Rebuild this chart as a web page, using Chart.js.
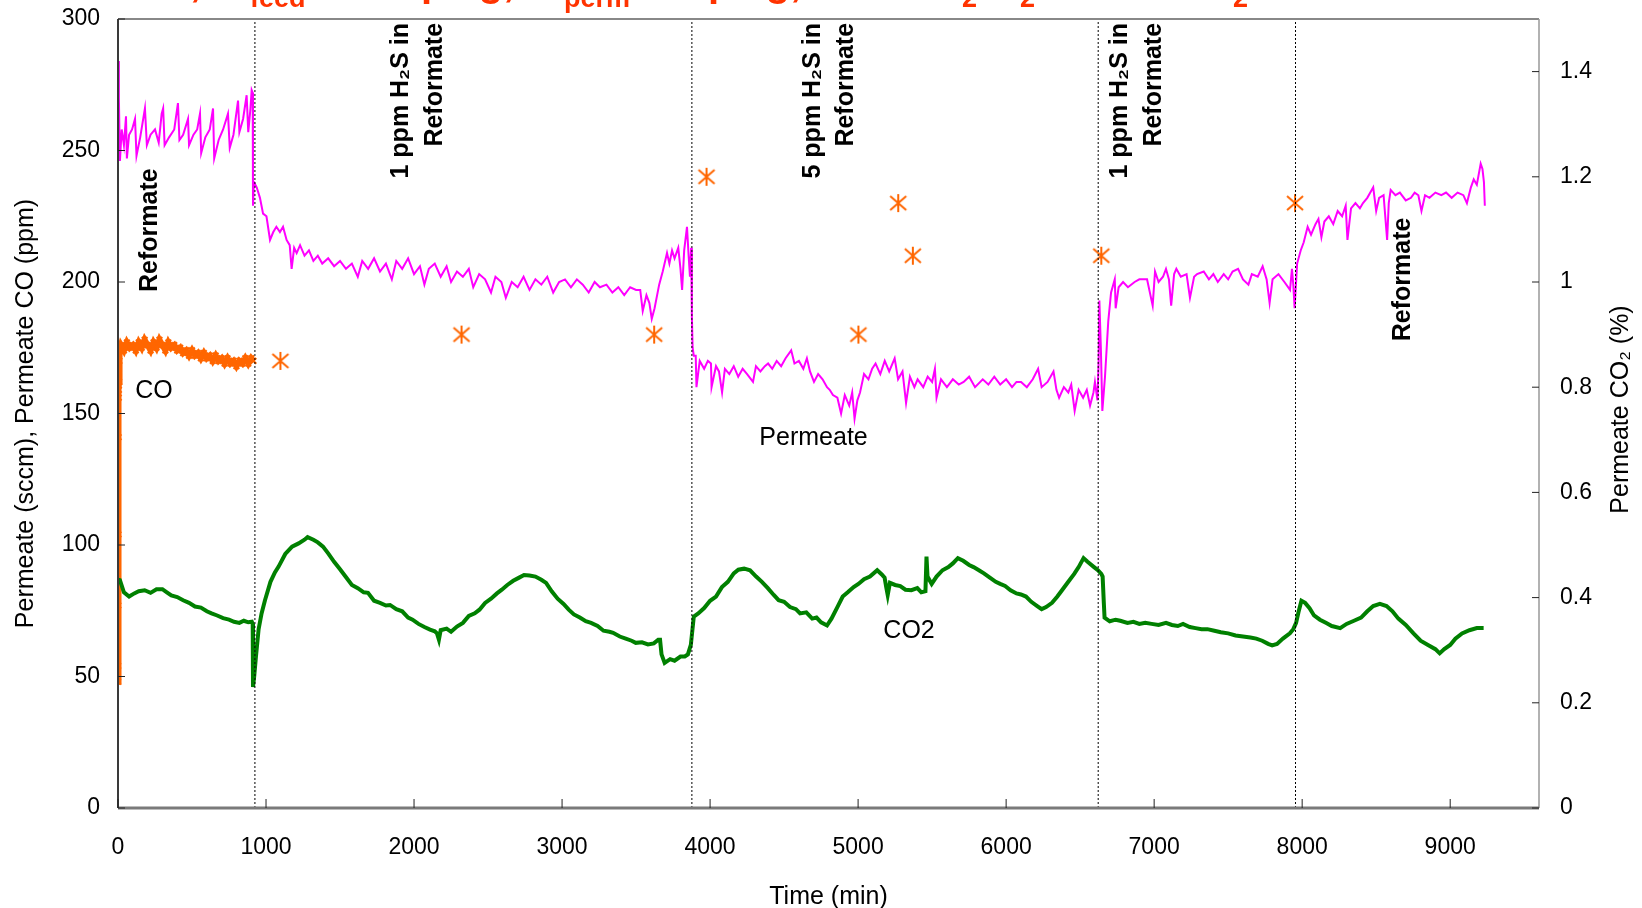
<!DOCTYPE html>
<html>
<head>
<meta charset="utf-8">
<script src="https://cdn.jsdelivr.net/npm/chart.js@4.4.1/dist/chart.umd.min.js"></script>
<style>
  html, body { margin: 0; padding: 0; background: #fff; }
  #wrap { width: 1642px; height: 908px; }
</style>
</head>
<body>
<div id="wrap"><canvas id="chart" width="1642" height="908"></canvas></div>
<script>
// Permeate flow (sccm), left axis
const permTime = [0, 6, 13, 25, 40, 54, 60, 75, 95, 115, 125, 150, 182, 195, 220, 250, 275, 295, 305, 315, 345, 380, 405, 415, 440, 473, 480, 510, 535, 554, 562, 590, 620, 642, 650, 680, 710, 743, 755, 780, 811, 820, 845, 869, 880, 895, 903, 910, 912, 918,
  937, 959, 980, 1003, 1027, 1049, 1070, 1094, 1115, 1139, 1160, 1173, 1190, 1207, 1230, 1260, 1290, 1320, 1350, 1380, 1420, 1460, 1500, 1540, 1580, 1620, 1650, 1690, 1730, 1770, 1810, 1850, 1880, 1920, 1960, 2000, 2040, 2070, 2100, 2140, 2180, 2220, 2250, 2290, 2330, 2370, 2400, 2440, 2480, 2520, 2550, 2590, 2620, 2660, 2700, 2740, 2780, 2820, 2860, 2900, 2940, 2980, 3020, 3060, 3100, 3140, 3180, 3220, 3256, 3300, 3340, 3380, 3420, 3460, 3500, 3528, 3545, 3570, 3590, 3606, 3625, 3656, 3680, 3709, 3725, 3743, 3760, 3785, 3800, 3811, 3825, 3844, 3855, 3864, 3872, 3877, 3882,
  3890, 3903, 3908, 3930, 3960, 3985, 4006, 4010, 4040, 4060, 4081, 4100, 4130, 4160, 4190, 4220, 4250, 4290, 4310, 4340, 4370, 4392, 4420, 4450, 4480, 4510, 4548, 4570, 4600, 4630, 4654, 4675, 4702, 4730, 4760, 4790, 4808, 4830, 4860, 4885, 4910, 4940, 4960, 4976, 4995, 5013, 5040, 5070, 5095, 5118, 5150, 5180, 5210, 5247, 5270, 5300, 5324, 5350, 5380, 5402, 5440, 5470, 5500, 5519, 5530, 5560, 5600, 5640, 5680, 5713, 5750, 5790, 5842, 5880, 5920, 5960, 6000, 6040, 6070, 6101, 6140, 6180, 6216, 6240, 6280, 6320, 6340, 6358, 6390, 6420, 6440, 6463, 6490, 6520, 6545, 6567, 6590, 6600, 6617,
  6625, 6630, 6640, 6650, 6668, 6690, 6709, 6734, 6740, 6760, 6790, 6823, 6868, 6900, 6952, 6990, 7006, 7030, 7060, 7080, 7100, 7115, 7135, 7150, 7180, 7219, 7242, 7270, 7290, 7335, 7370, 7400, 7430, 7470, 7500, 7530, 7567, 7600, 7637, 7660, 7700, 7733, 7760, 7780, 7800, 7840, 7880, 7918, 7931, 7940, 7949, 7966,
  7990, 8010, 8037, 8060, 8090, 8110, 8130, 8150, 8180, 8210, 8240, 8270, 8294, 8306, 8330, 8360, 8390, 8411, 8440, 8480, 8500, 8520, 8550, 8574, 8585, 8598, 8630, 8660, 8700, 8735, 8760, 8785, 8806, 8830, 8860, 8900, 8940, 8972, 9010, 9050, 9089, 9113, 9140, 9159, 9180, 9206, 9218, 9228, 9234];
const permValue = [284, 270, 246, 258, 252, 263, 247, 256, 258, 262, 248, 255, 266, 252, 256, 258, 253, 264, 266, 252, 255, 258, 268, 254, 256, 262, 252, 256, 258, 264, 249, 255, 258, 266, 247, 254, 258, 264, 251, 256, 269, 257, 262, 271, 257, 266, 273, 272, 229, 238,
  236, 232, 226, 225, 216, 219, 221, 219, 221, 216, 214, 205, 213, 211, 214, 210, 212, 208, 210, 207, 209, 206, 208, 205, 207, 202, 208, 205, 209, 204, 207, 201, 208, 205, 209, 203, 206, 199, 205, 207, 202, 206, 200, 204, 202, 205, 198, 203, 201, 196, 202, 200, 194, 200, 198, 202, 197, 201, 199, 202, 196, 200, 201, 198, 201, 199, 196, 200, 198, 199, 196, 198, 195, 198, 197, 197, 189, 195, 192, 186, 190, 199, 204, 211, 207, 212, 209, 213, 205, 197, 212, 221, 210, 202, 213, 187, 175,
  172, 172, 160, 170, 167, 170, 169, 160, 168, 166, 158, 167, 165, 168, 164, 167, 165, 162, 168, 166, 168, 169, 167, 170, 168, 171, 174, 169, 170, 167, 171, 166, 162, 165, 163, 160, 159, 157, 156, 150, 157, 153, 158, 148, 155, 158, 165, 163, 167, 169, 165, 170, 166, 171, 163, 166, 154, 164, 160, 163, 160, 164, 162, 167, 156, 163, 160, 163, 161, 162, 164, 160, 163, 161, 164, 161, 163, 160, 162, 162, 160, 163, 167, 160, 162, 166, 159, 156, 160, 158, 161, 151, 159, 156, 159, 153, 158, 162, 155,
  170, 193, 175, 151, 164, 185, 196, 201, 190, 198, 200, 198, 200, 201, 201, 191, 204, 200, 202, 205, 201, 191, 203, 205, 202, 203, 194, 202, 203, 204, 201, 203, 200, 203, 201, 204, 205, 201, 199, 203, 202, 206, 201, 192, 201, 203, 200, 197, 205, 199, 190, 207,
  212, 215, 221, 218, 222, 224, 217, 223, 225, 222, 227, 225, 229, 216, 228, 230, 228, 230, 232, 236, 227, 232, 233, 216, 230, 235, 233, 234, 231, 232, 234, 233, 227, 233, 232, 234, 233, 234, 232, 234, 233, 230, 236, 239, 237, 245, 243, 238, 229];

// Permeate CO (ppm), left axis
const coTime = [0, 1, 2, 3, 4, 5, 6, 7, 9, 12, 20, 40, 60, 80, 100, 120, 140, 160, 180, 200, 220, 240, 260, 280, 300, 320, 340, 360, 380, 400, 420, 440, 460, 480, 500, 520, 540, 560, 580, 600, 620, 640, 660, 680, 700, 720, 740, 760, 780, 800, 820, 840, 860, 880, 900, 915];
const coValue = [48, 54, 77, 104, 141, 156, 159, 162, 170, 174, 176, 174, 177, 175, 176, 174, 177, 175, 178, 176, 174, 177, 175, 178, 176, 174, 177, 175, 176, 174, 175, 173, 174, 172, 174, 172, 173, 171, 173, 171, 172, 170, 172, 170, 171, 169, 171, 169, 170, 168, 170, 169, 171, 169, 171, 170];

// Spot CO readings (asterisks)
const spotTime = [1097, 2321, 3622, 3976, 5002, 5271, 5370, 6643, 7952];
const spotValue = [170, 180, 180, 240, 180, 230, 210, 210, 230];

// Permeate CO2 (%), right axis
const co2Time = [0, 13, 40, 75, 110, 140, 180, 220, 260, 300, 330, 360, 400, 440, 480, 520, 560, 600, 632, 670, 710, 750, 784, 820, 850, 880, 904, 910, 912, 920, 932, 950, 970, 993, 1030, 1060, 1085, 1130, 1176, 1220, 1260, 1281, 1320, 1350, 1385, 1420, 1460, 1500, 1537, 1580, 1620, 1660, 1689, 1730, 1770, 1810, 1838, 1880, 1920, 1960, 1990, 2030, 2070, 2108, 2140, 2155, 2168, 2180, 2220, 2250, 2290, 2330, 2370, 2410, 2442, 2480, 2520, 2560, 2593, 2630, 2670, 2710, 2743, 2780, 2820, 2860, 2892, 2930, 2970, 3010, 3045, 3080, 3120, 3160, 3196, 3240, 3280, 3320, 3345, 3390, 3430, 3470, 3498, 3540, 3580, 3620, 3650, 3662, 3672, 3693, 3730, 3760, 3800, 3829, 3850, 3870,
  3890, 3920, 3960, 4000, 4040, 4080, 4120, 4160, 4191, 4230, 4270, 4311, 4350, 4390, 4430, 4463, 4500, 4540, 4580, 4608, 4650, 4690, 4719, 4750, 4790, 4820, 4860, 4896, 4930, 4970, 5002, 5040, 5080, 5129, 5160, 5179, 5190, 5200, 5215, 5250, 5285, 5320, 5360, 5400, 5427, 5455, 5462, 5469, 5497, 5530, 5570, 5610, 5640, 5674, 5710, 5750, 5780, 5816, 5850, 5890, 5930, 5960, 5993, 6030, 6070, 6100, 6134, 6170, 6210, 6240, 6270, 6310, 6346, 6380, 6420, 6460, 6490, 6523, 6550, 6594, 6620, 6643, 6652, 6660,
  6665, 6700, 6740, 6771, 6820, 6860, 6900, 6940, 6983, 7030, 7080, 7120, 7160, 7195, 7240, 7280, 7320, 7360, 7407, 7450, 7500, 7550, 7600, 7650, 7690, 7730, 7770, 7797, 7830, 7870, 7917, 7940, 7959, 7975, 7995, 8020, 8050, 8080, 8120, 8160, 8200, 8257, 8300, 8350, 8398, 8440, 8480, 8525, 8570, 8610, 8650, 8700, 8752, 8800, 8850, 8900, 8929, 8960, 9000, 9035, 9080, 9130, 9180, 9226];
const co2Value = [0.434, 0.433, 0.41, 0.402, 0.408, 0.412, 0.414, 0.409, 0.416, 0.416, 0.41, 0.404, 0.401, 0.395, 0.39, 0.383, 0.381, 0.374, 0.37, 0.366, 0.361, 0.358, 0.354, 0.352, 0.356, 0.353, 0.354, 0.35, 0.23, 0.25, 0.288, 0.34, 0.37, 0.395, 0.43, 0.448, 0.459, 0.483, 0.497, 0.503, 0.51, 0.515, 0.51, 0.505, 0.497, 0.484, 0.468, 0.454, 0.44, 0.424, 0.418, 0.41, 0.409, 0.394, 0.39, 0.385, 0.386, 0.378, 0.374, 0.362, 0.358, 0.35, 0.344, 0.339, 0.336, 0.332, 0.32, 0.338, 0.341, 0.335, 0.345, 0.352, 0.365, 0.37, 0.377, 0.39, 0.398, 0.408, 0.415, 0.424, 0.432, 0.438, 0.443, 0.442, 0.44, 0.434, 0.428, 0.412, 0.398, 0.388, 0.377, 0.368, 0.362, 0.355, 0.352, 0.346, 0.337, 0.335, 0.333, 0.326, 0.322, 0.318, 0.314, 0.315, 0.311, 0.313, 0.32, 0.32, 0.292, 0.276, 0.283, 0.28, 0.288, 0.288, 0.292, 0.31,
  0.364, 0.37, 0.38, 0.394, 0.402, 0.42, 0.43, 0.446, 0.453, 0.455, 0.452, 0.44, 0.43, 0.418, 0.405, 0.395, 0.392, 0.382, 0.378, 0.37, 0.372, 0.36, 0.362, 0.353, 0.347, 0.36, 0.382, 0.402, 0.41, 0.42, 0.426, 0.435, 0.44, 0.452, 0.444, 0.438, 0.42, 0.405, 0.428, 0.424, 0.422, 0.415, 0.414, 0.418, 0.41, 0.412, 0.478, 0.44, 0.426, 0.44, 0.452, 0.458, 0.465, 0.475, 0.47, 0.462, 0.458, 0.452, 0.446, 0.438, 0.43, 0.426, 0.422, 0.414, 0.408, 0.406, 0.402, 0.392, 0.384, 0.378, 0.382, 0.39, 0.402, 0.415, 0.43, 0.445, 0.458, 0.475, 0.468, 0.458, 0.452, 0.445, 0.44, 0.39,
  0.362, 0.355, 0.358, 0.356, 0.352, 0.354, 0.35, 0.352, 0.35, 0.348, 0.352, 0.348, 0.346, 0.35, 0.344, 0.342, 0.34, 0.34, 0.337, 0.334, 0.332, 0.328, 0.326, 0.324, 0.322, 0.318, 0.312, 0.309, 0.312, 0.322, 0.332, 0.34, 0.352, 0.372, 0.394, 0.39, 0.38, 0.366, 0.358, 0.352, 0.346, 0.342, 0.35, 0.356, 0.362, 0.374, 0.384, 0.388, 0.384, 0.374, 0.36, 0.348, 0.332, 0.318, 0.31, 0.302, 0.294, 0.302, 0.31, 0.322, 0.332, 0.338, 0.342, 0.342];

// Feed changes (min)
const phaseBreaks = [925, 3877, 6622, 7955];

const xTicks = [0, 1000, 2000, 3000, 4000, 5000, 6000, 7000, 8000, 9000];
const yTicks = [0, 50, 100, 150, 200, 250, 300];
const y2Ticks = [0, 0.2, 0.4, 0.6, 0.8, 1.0, 1.2, 1.4];

const FONT = "'Liberation Sans', Arial, sans-serif";
const toPoints = (xs, ys) => xs.map((x, i) => ({ x, y: ys[i] }));

function makeAsterisk(color) {
  const c = document.createElement("canvas");
  c.width = 20;
  c.height = 20;
  const g = c.getContext("2d");
  g.strokeStyle = color;
  g.lineWidth = 2;
  g.beginPath();
  g.moveTo(10, 1); g.lineTo(10, 19);
  g.moveTo(2, 3); g.lineTo(18, 17);
  g.moveTo(18, 3); g.lineTo(2, 17);
  g.stroke();
  return c;
}

// frame, inward ticks, right labels, annotations and the clipped red heading
const decorPlugin = {
  id: "decor",
  afterDraw(chart) {
    const { ctx, chartArea: a, scales } = chart;
    const px = (t) => scales.x.getPixelForValue(t);
    const py = (v) => scales.y.getPixelForValue(v);
    const py2 = (v) => scales.y2.getPixelForValue(v);

    ctx.save();
    const line = (x1, y1, x2, y2, color, w) => {
      ctx.strokeStyle = color;
      ctx.lineWidth = w;
      ctx.beginPath();
      ctx.moveTo(x1, y1);
      ctx.lineTo(x2, y2);
      ctx.stroke();
    };
    line(a.left, a.top, a.right, a.top, "#888", 2);
    line(a.right, a.top, a.right, a.bottom, "#999", 1.5);
    line(a.left, a.bottom, a.right, a.bottom, "#7a7a7a", 3);
    line(a.left, a.top, a.left, a.bottom, "#3a3a3a", 2);

    yTicks.forEach((v) => line(a.left, py(v), a.left + 7, py(v), "#222", 1));
    y2Ticks.forEach((v) => line(a.right - 7, py2(v), a.right, py2(v), "#222", 1));
    xTicks.forEach((t) => line(px(t), a.bottom, px(t), a.bottom - 9, "#222", 1));

    ctx.fillStyle = "#000";
    ctx.font = `23px ${FONT}`;
    ctx.textAlign = "left";
    ctx.textBaseline = "middle";
    y2Ticks.forEach((v) => ctx.fillText(String(Number(v.toFixed(1))), a.right + 21, py2(v)));

    const vtext = (text, x, y, align) => {
      ctx.save();
      ctx.translate(x, y);
      ctx.rotate(-Math.PI / 2);
      ctx.textAlign = align;
      ctx.textBaseline = "middle";
      ctx.fillText(text, 0, 0);
      ctx.restore();
    };

    ctx.font = `bold 25px ${FONT}`;
    vtext("Reformate", px(216), py(219.7), "center");
    vtext("1 ppm H\u2082S in", px(1912), py(298.5), "right");
    vtext("Reformate", px(2142), py(298.5), "right");
    vtext("5 ppm H\u2082S in", px(4695), py(298.5), "right");
    vtext("Reformate", px(4918), py(298.5), "right");
    vtext("1 ppm H\u2082S in", px(6769), py(298.5), "right");
    vtext("Reformate", px(6999), py(298.5), "right");
    vtext("Reformate", px(8681), py(201), "center");

    ctx.font = `25px ${FONT}`;
    ctx.textAlign = "center";
    ctx.textBaseline = "middle";
    ctx.fillText("CO", px(243), py(158.7));
    ctx.fillText("Permeate", px(4699), py(140.8));
    ctx.fillText("CO2", px(5344), py(67.3));

    vtext("Permeate CO\u2082 (%)", 1621, (a.top + a.bottom) / 2 - 4, "center");

    // heading sits above the canvas; only its lower part shows
    const parts = [
      { t: "T = 400\u00b0C,", x: 201, align: "right" },
      { t: "P", x: 218 },
      { t: "feed", x: 250, sub: true },
      { t: "= 100", x: 310 },
      { t: "psig,", x: 421 },
      { t: "P", x: 531 },
      { t: "perm", x: 564, sub: true },
      { t: "= 0", x: 645 },
      { t: "psig,", x: 708 },
      { t: "10% H", x: 962, align: "right" },
      { t: "2", x: 962, sub: true },
      { t: "/N", x: 977 },
      { t: "2", x: 1020, sub: true },
      { t: "+ CO", x: 1233, align: "right" },
      { t: "2", x: 1233, sub: true },
    ];
    ctx.fillStyle = "#ff3300";
    ctx.textBaseline = "alphabetic";
    parts.forEach((p) => {
      ctx.font = p.sub ? `bold 27px ${FONT}` : `bold 40px ${FONT}`;
      ctx.textAlign = p.align || "left";
      ctx.fillText(p.t, p.x, p.sub ? 7 : -4);
    });
    ctx.restore();
  },
};

const tickFont = { family: FONT, size: 23 };
const titleFont = { family: FONT, size: 25 };
const noEdgePadding = (s) => {
  s.paddingTop = 0;
  s.paddingBottom = 0;
  s.paddingLeft = 0;
  s.paddingRight = 0;
};

new Chart(document.getElementById("chart"), {
  type: "line",
  data: {
    datasets: [
      ...phaseBreaks.map((b) => ({
        data: [{ x: b, y: 0 }, { x: b, y: 300 }],
        borderColor: "#000",
        borderWidth: 1,
        borderDash: [2, 2],
        pointRadius: 0,
        yAxisID: "y",
      })),
      {
        label: "CO2",
        data: toPoints(co2Time, co2Value),
        borderColor: "#008000",
        borderWidth: 4,
        pointRadius: 0,
        yAxisID: "y2",
      },
      {
        label: "Permeate",
        data: toPoints(permTime, permValue),
        borderColor: "#ff00ff",
        borderWidth: 2,
        pointRadius: 0,
        yAxisID: "y",
      },
      {
        label: "CO",
        data: toPoints(coTime, coValue),
        borderColor: "#ff6600",
        backgroundColor: "#ff6600",
        borderWidth: 6,
        pointStyle: "crossRot",
        pointRadius: 4,
        pointBorderWidth: 2,
        yAxisID: "y",
      },
      {
        label: "CO spot",
        data: toPoints(spotTime, spotValue),
        showLine: false,
        pointStyle: makeAsterisk("#ff6600"),
        pointRadius: 10,
        yAxisID: "y",
      },
    ],
  },
  options: {
    responsive: false,
    animation: false,
    layout: { padding: { top: 19, left: 0, right: 0, bottom: 0 } },
    plugins: { legend: { display: false }, tooltip: { enabled: false } },
    scales: {
      x: {
        type: "linear",
        min: 0,
        max: 9600,
        grid: { display: false, drawTicks: false },
        border: { display: false },
        afterBuildTicks: (s) => { s.ticks = xTicks.map((value) => ({ value })); },
        afterFit: (s) => { s.height = 100; noEdgePadding(s); },
        ticks: { font: tickFont, color: "#000", padding: 26, maxRotation: 0, callback: (v) => String(v) },
        title: { display: true, text: "Time (min)", font: titleFont, color: "#000", padding: { top: 0, bottom: -4 } },
      },
      y: {
        position: "left",
        min: 0,
        max: 300,
        grid: { display: false, drawTicks: false },
        border: { display: false },
        afterBuildTicks: (s) => { s.ticks = yTicks.map((value) => ({ value })); },
        afterFit: (s) => { s.width = 118; noEdgePadding(s); },
        ticks: { font: tickFont, color: "#000", padding: 18 },
        title: { display: true, text: "Permeate (sccm), Permeate CO (ppm)", font: titleFont, color: "#000", padding: { top: 11, bottom: 0 } },
      },
      y2: {
        position: "right",
        min: 0,
        max: 1.5,
        grid: { display: false, drawTicks: false },
        border: { display: false },
        afterBuildTicks: (s) => { s.ticks = y2Ticks.map((value) => ({ value })); },
        afterFit: (s) => { s.width = 103; noEdgePadding(s); },
        ticks: { display: false },
      },
    },
  },
  plugins: [decorPlugin],
});
</script>
</body>
</html>
